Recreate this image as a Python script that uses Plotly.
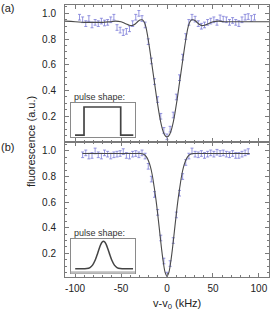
import plotly.graph_objects as go

# ---------------- data ----------------
# panel (a): square pulse
a_x = [-95.2, -91.8, -88.4, -85.0, -81.6, -78.2, -74.8, -71.4, -68.0, -64.6, -61.2, -57.8,
       -54.4, -51.0, -47.6, -44.2, -40.8, -37.4, -34.0, -30.6, -27.2, -23.8, -20.4, -17.0,
       -13.6, -10.2, -6.8, -3.4, 0.0, 3.4, 6.8, 10.2, 13.6, 17.0, 20.4, 23.8, 27.2, 30.6,
       34.0, 37.4, 40.8, 44.2, 47.6, 51.0, 54.4, 57.8, 61.2, 64.6, 68.0, 71.4, 74.8, 78.2,
       81.6, 85.0, 88.4, 91.8, 95.2]
a_y = [0.97, 0.95, 0.92, 0.96, 0.91, 0.93, 0.92, 0.94, 0.925, 0.93, 0.95, 0.97,
       0.89, 0.87, 0.85, 0.86, 0.88, 0.92, 0.97, 1.0, 0.96, 0.91, 0.78, 0.63,
       0.47, 0.33, 0.20, 0.09, 0.04, 0.10, 0.21, 0.35, 0.50, 0.66, 0.82, 0.93, 0.97, 0.955,
       0.92, 0.90, 0.91, 0.93, 0.94, 0.95, 0.93, 0.965, 0.955, 0.95, 0.93, 0.945, 0.93, 0.92,
       0.95, 0.97, 0.975, 0.96, 0.97]
a_fit_x = [-112, -100, -90, -80, -70, -62, -56, -50, -45, -41, -38, -35, -32, -29.5, -27,
           -25, -23, -21, -19, -17, -15, -13, -11, -9, -7, -5, -3, -1.5, 0,
           1.5, 3, 5, 7, 9, 11, 13, 15, 17, 19, 21, 23, 25, 27, 29.5, 32, 35, 38, 41,
           45, 50, 56, 62, 70, 80, 90, 100, 112]
a_fit_y = [0.94, 0.935, 0.93, 0.93, 0.93, 0.935, 0.94, 0.935, 0.92, 0.908, 0.905, 0.915, 0.935, 0.948, 0.95,
           0.935, 0.895, 0.82, 0.73, 0.63, 0.53, 0.43, 0.33, 0.24, 0.16, 0.10, 0.06, 0.045, 0.04,
           0.045, 0.06, 0.10, 0.16, 0.24, 0.33, 0.43, 0.53, 0.63, 0.73, 0.82, 0.895, 0.935, 0.95, 0.948, 0.935, 0.915, 0.905, 0.908,
           0.92, 0.935, 0.94, 0.935, 0.935, 0.935, 0.935, 0.935, 0.935]

# panel (b): gaussian pulse
b_x = [-91.8, -88.4, -85.0, -81.6, -78.2, -74.8, -71.4, -68.0, -64.6, -61.2, -57.8, -54.4,
       -51.0, -47.6, -44.2, -40.8, -37.4, -34.0, -30.6, -27.2, -23.8, -20.4, -17.0, -13.6,
       -10.2, -6.8, -3.4, 0.0, 3.4, 6.8, 10.2, 13.6, 17.0, 20.4, 23.8, 27.2, 30.6, 34.0,
       37.4, 40.8, 44.2, 47.6, 51.0, 54.4, 57.8, 61.2, 64.6, 68.0, 71.4, 74.8, 78.2, 81.6,
       85.0, 88.4]
b_y = [0.97, 0.985, 0.96, 0.965, 1.0, 0.97, 0.96, 0.985, 0.975, 0.96, 0.97, 0.975,
       0.98, 0.995, 0.965, 0.96, 0.975, 0.98, 0.97, 0.985, 0.96, 0.88, 0.78, 0.66,
       0.52, 0.32, 0.14, 0.03, 0.12, 0.30, 0.50, 0.67, 0.80, 0.91, 0.96, 1.0, 0.975, 0.97,
       0.98, 0.965, 0.975, 0.985, 0.975, 0.99, 0.98, 0.985, 0.975, 0.97, 0.98, 0.965, 0.965, 0.975,
       0.985, 0.995]
b_fit_x = [-92, -60, -40, -30, -26, -24, -22, -20, -18, -16, -14, -12, -10, -8, -6, -4, -2, 0,
           2, 4, 6, 8, 10, 12, 14, 16, 18, 20, 22, 24, 26, 30, 40, 60, 90]
b_fit_y = [0.98, 0.98, 0.98, 0.98, 0.977, 0.968, 0.95, 0.92, 0.875, 0.81, 0.72, 0.62, 0.50, 0.37, 0.24, 0.13, 0.05, 0.02,
           0.05, 0.13, 0.24, 0.37, 0.50, 0.62, 0.72, 0.81, 0.875, 0.92, 0.95, 0.968, 0.977, 0.98, 0.98, 0.98, 0.98]

# inset pulse shapes (arbitrary units)
sq_x = [0.067, 0.207, 0.207, 0.778, 0.778, 0.974]
sq_y = [0.05, 0.05, 0.88, 0.88, 0.05, 0.05]
ga_x = [0.07, 0.15, 0.25, 0.30, 0.34, 0.38, 0.41, 0.44, 0.47, 0.49, 0.51,
        0.53, 0.55, 0.58, 0.61, 0.64, 0.68, 0.72, 0.77, 0.87, 0.97]
ga_y = [0.12, 0.12, 0.128, 0.158, 0.229, 0.371, 0.525, 0.697, 0.845, 0.908, 0.93,
        0.908, 0.845, 0.697, 0.525, 0.371, 0.229, 0.158, 0.128, 0.12, 0.12]

y_ticks = [0.2, 0.4, 0.6, 0.8, 1.0]
y_ticklabels = ["0.2", "0.4", "0.6", "0.8", "1.0"]
x_ticks = [-100, -50, 0, 50, 100]
x_ticklabels = ["-100", "-50", "0", "50", "100"]

# ---------------- style ----------------
ERR = "#7b7bd8"
FIT = "#4a4a4a"
FRAME = "#7a7a7a"
TXT = "#222222"
FONT = "Liberation Sans, Arial, sans-serif"

fig = go.Figure()

def data_trace(x, y, xa, ya):
    return go.Scatter(x=x, y=y, mode="markers", xaxis=xa, yaxis=ya,
                      marker=dict(size=2, color=ERR, opacity=0),
                      error_y=dict(type="constant", value=0.022, color=ERR, thickness=0.8, width=1.5),
                      showlegend=False, hoverinfo="skip")

fig.add_trace(data_trace(a_x, a_y, "x", "y"))
fig.add_trace(go.Scatter(x=a_fit_x, y=a_fit_y, mode="lines", line=dict(color=FIT, width=1.1, shape="spline"),
                         xaxis="x", yaxis="y", showlegend=False))
fig.add_trace(data_trace(b_x, b_y, "x2", "y2"))
fig.add_trace(go.Scatter(x=b_fit_x, y=b_fit_y, mode="lines", line=dict(color=FIT, width=1.1, shape="spline"),
                         xaxis="x2", yaxis="y2", showlegend=False))
fig.add_trace(go.Scatter(x=sq_x, y=sq_y, mode="lines", line=dict(color="#444444", width=1.7),
                         xaxis="x3", yaxis="y3", showlegend=False))
fig.add_trace(go.Scatter(x=ga_x, y=ga_y, mode="lines", line=dict(color="#444444", width=1.5, shape="spline"),
                         xaxis="x4", yaxis="y4", showlegend=False))

split = 135 / 272

def xax(domain_y_anchor, labels):
    return dict(range=[-111, 111], tickvals=x_ticks, ticktext=x_ticklabels, showticklabels=labels,
                ticks="inside", ticklen=4, tickcolor=FRAME, tickwidth=0.8,
                minor=dict(dtick=10, tick0=0, ticks="inside", ticklen=2, tickcolor=FRAME, tickwidth=0.8),
                showline=True, linecolor=FRAME, linewidth=1, mirror="ticks",
                showgrid=False, zeroline=False, anchor=domain_y_anchor,
                tickfont=dict(size=10, color=TXT, family=FONT), ticklabelstandoff=2)

def yax(rng, dom, anchor):
    return dict(range=rng, domain=dom, tickvals=y_ticks, ticktext=y_ticklabels,
                ticks="inside", ticklen=4, tickcolor=FRAME, tickwidth=0.8,
                minor=dict(dtick=0.05, tick0=0, ticks="inside", ticklen=2, tickcolor=FRAME, tickwidth=0.8),
                showline=True, linecolor=FRAME, linewidth=1, mirror="ticks",
                showgrid=False, zeroline=False, anchor=anchor,
                tickfont=dict(size=10, color=TXT, family=FONT), ticklabelstandoff=6)

def inset_axes(xd, yd, anchor_x, anchor_y):
    ax = dict(range=[0, 1], domain=xd, showline=True, linecolor="#8a8a8a", linewidth=1, mirror=True,
              showticklabels=False, ticks="", showgrid=False, zeroline=False, anchor=anchor_y, fixedrange=True)
    ay = dict(range=[0, 1], domain=yd, showline=True, linecolor="#8a8a8a", linewidth=1, mirror=True,
              showticklabels=False, ticks="", showgrid=False, zeroline=False, anchor=anchor_x, fixedrange=True)
    return ax, ay

ax3, ay3 = inset_axes([0.028, 0.343], [0.515, 0.640], "x3", "y3")
ax4, ay4 = inset_axes([0.028, 0.343], [0.015, 0.140], "x4", "y4")

fig.update_layout(
    width=272, height=314,
    margin=dict(l=65, r=3, t=5, b=37),
    paper_bgcolor="white", plot_bgcolor="white",
    font=dict(family=FONT, color=TXT, size=10),
    xaxis=xax("y", False),
    yaxis=yax([0.0, 1.065], [split, 1.0], "x"),
    xaxis2=xax("y2", True),
    yaxis2=yax([0.015, 1.07], [0.0, split], "x2"),
    xaxis3=ax3, yaxis3=ay3, xaxis4=ax4, yaxis4=ay4,
    showlegend=False,
)

ann = [
    dict(text="fluorescence (a.u.)", x=-0.167, y=0.5, textangle=-90, font=dict(size=11)),
    dict(text="v-v<sub>0</sub> (kHz)", x=0.549, y=-0.098, font=dict(size=11)),
    dict(text="(a)", x=-0.284, y=0.99, font=dict(size=11)),
    dict(text="(b)", x=-0.284, y=0.478, font=dict(size=11)),
    dict(text="pulse shape:", x=0.034, y=0.662, xanchor="left", font=dict(size=9, color="#333333")),
    dict(text="pulse shape:", x=0.034, y=0.162, xanchor="left", font=dict(size=9, color="#333333")),
]
for a in ann:
    a.setdefault("xanchor", "center")
    fig.add_annotation(xref="paper", yref="paper", showarrow=False, yanchor="middle", **a)

fig.add_shape(type="line", xref="paper", yref="paper", x0=0.028, x1=0.343, y0=0.017, y1=0.017,
              line=dict(color="#bdbdbd", width=2.5))

fig.write_html("out.html", config={"displayModeBar": False},
               post_script="document.body.style.margin='0';document.body.style.padding='0';")
